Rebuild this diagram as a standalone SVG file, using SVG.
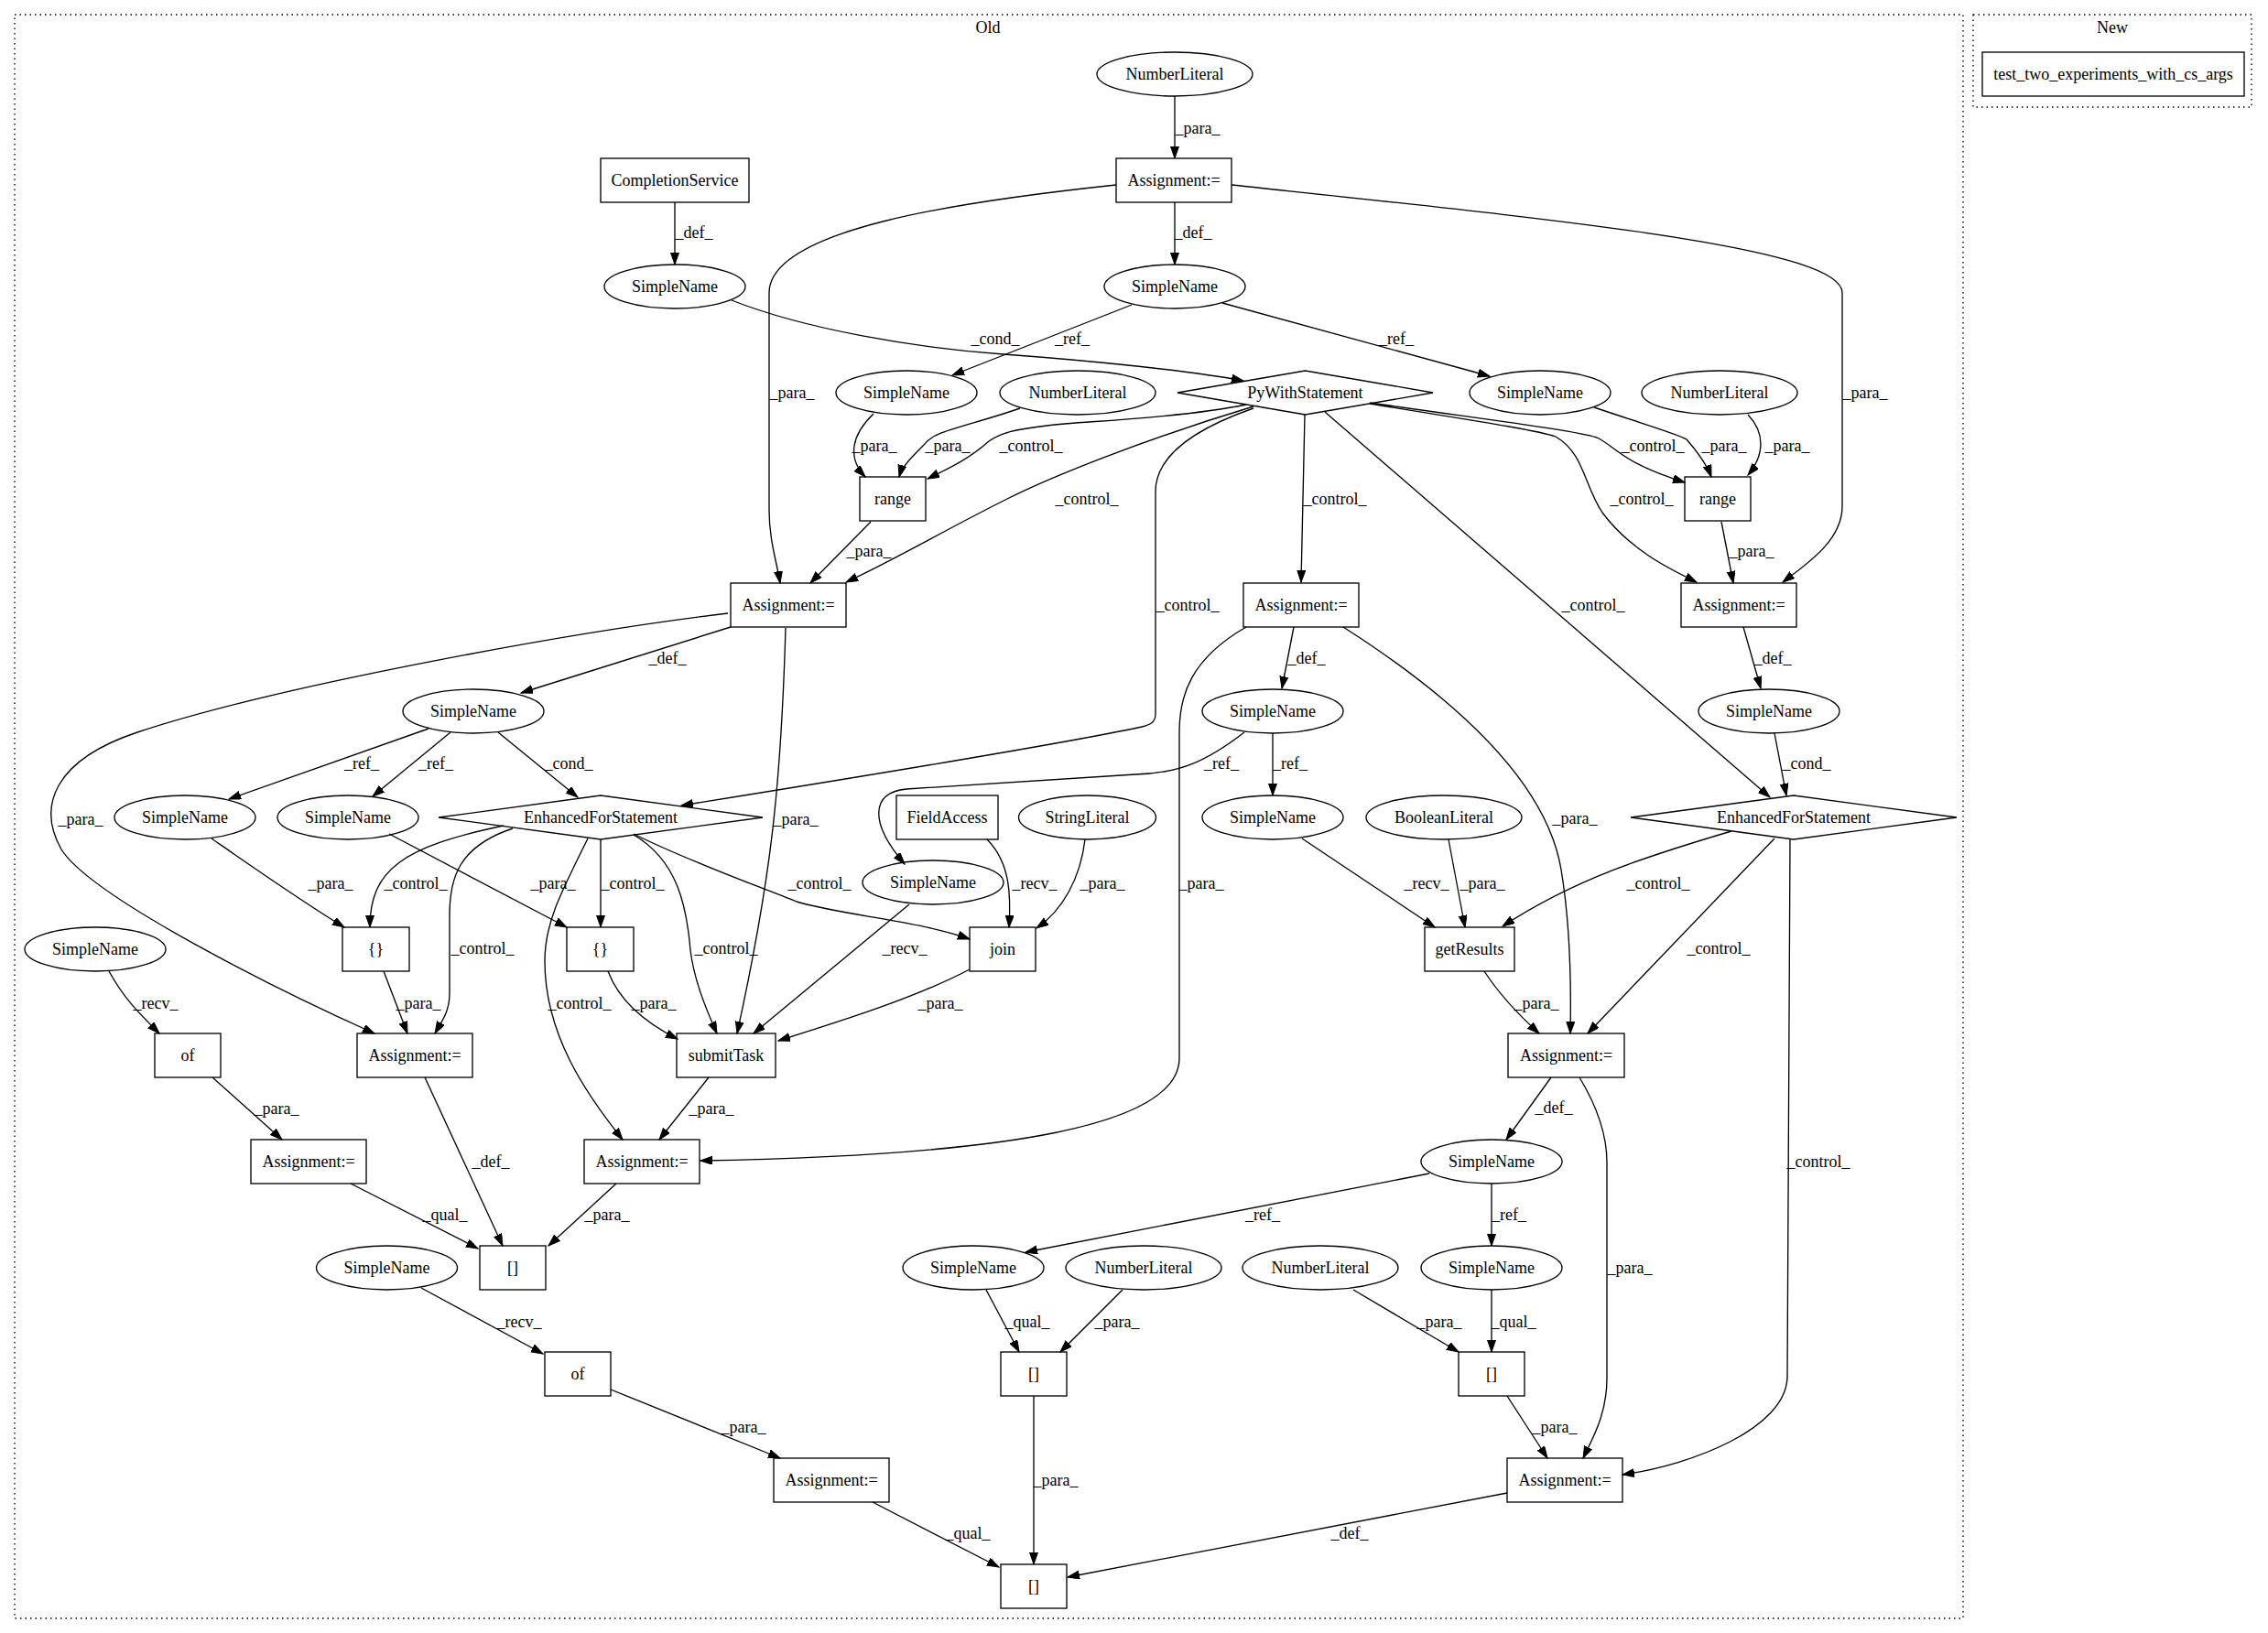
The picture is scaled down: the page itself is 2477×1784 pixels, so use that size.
<svg xmlns="http://www.w3.org/2000/svg" width="2477" height="1784" viewBox="0 0 2477 1784">
<defs>
<marker id="ah" markerUnits="userSpaceOnUse" markerWidth="14" markerHeight="10" refX="13" refY="4.5" orient="auto"><path d="M0,0 L13,4.5 L0,9 z" fill="#000" stroke="#000" stroke-width="1"/></marker>
<style>
.cl{fill:none;stroke:#000;stroke-width:1.33;stroke-dasharray:1.5,4}
.n ellipse,.n rect,.n polygon{fill:none;stroke:#000;stroke-width:1.33}
text{font-family:"Liberation Serif","Times New Roman",serif;font-size:18px;fill:#000}
.n text,.ct{text-anchor:middle}
#edges path{fill:none;stroke:#000;stroke-width:1.33;marker-end:url(#ah)}
#labels text{text-anchor:middle}
</style>
</defs>
<rect class="cl" x="16" y="16" width="2128" height="1752"/>
<text class="ct" x="1079" y="36">Old</text>
<rect class="cl" x="2155" y="16" width="304" height="101"/>
<text class="ct" x="2307" y="36">New</text>

<g id="n1" class="n"><ellipse cx="1283" cy="81" rx="85" ry="24"/><text x="1283" y="87">NumberLiteral</text></g>
<g id="n2" class="n"><rect x="1219" y="173" width="126" height="48"/><text x="1282" y="203">Assignment:=</text></g>
<g id="n3" class="n"><rect x="656" y="173" width="162" height="48"/><text x="737" y="203">CompletionService</text></g>
<g id="n4" class="n"><ellipse cx="737" cy="313" rx="77" ry="24"/><text x="737" y="319">SimpleName</text></g>
<g id="n5" class="n"><ellipse cx="1283" cy="313" rx="77" ry="24"/><text x="1283" y="319">SimpleName</text></g>
<g id="n6" class="n"><polygon points="1286,429 1425.5,405 1565,429 1425.5,453"/><text x="1425.5" y="435">PyWithStatement</text></g>
<g id="n7" class="n"><ellipse cx="990" cy="429" rx="77" ry="24"/><text x="990" y="435">SimpleName</text></g>
<g id="n8" class="n"><ellipse cx="1177" cy="429" rx="85" ry="24"/><text x="1177" y="435">NumberLiteral</text></g>
<g id="n9" class="n"><ellipse cx="1682" cy="429" rx="77" ry="24"/><text x="1682" y="435">SimpleName</text></g>
<g id="n10" class="n"><ellipse cx="1878" cy="429" rx="85" ry="24"/><text x="1878" y="435">NumberLiteral</text></g>
<g id="n11" class="n"><rect x="939" y="521" width="72" height="48"/><text x="975" y="551">range</text></g>
<g id="n12" class="n"><rect x="1840" y="521" width="72" height="48"/><text x="1876" y="551">range</text></g>
<g id="n13" class="n"><rect x="798" y="637" width="126" height="48"/><text x="861" y="667">Assignment:=</text></g>
<g id="n14" class="n"><rect x="1358" y="637" width="126" height="48"/><text x="1421" y="667">Assignment:=</text></g>
<g id="n15" class="n"><rect x="1836" y="637" width="126" height="48"/><text x="1899" y="667">Assignment:=</text></g>
<g id="n16" class="n"><ellipse cx="517" cy="777" rx="77" ry="24"/><text x="517" y="783">SimpleName</text></g>
<g id="n17" class="n"><ellipse cx="1390" cy="777" rx="77" ry="24"/><text x="1390" y="783">SimpleName</text></g>
<g id="n18" class="n"><ellipse cx="1932" cy="777" rx="77" ry="24"/><text x="1932" y="783">SimpleName</text></g>
<g id="n19" class="n"><ellipse cx="202" cy="893" rx="77" ry="24"/><text x="202" y="899">SimpleName</text></g>
<g id="n20" class="n"><ellipse cx="380" cy="893" rx="77" ry="24"/><text x="380" y="899">SimpleName</text></g>
<g id="n21" class="n"><polygon points="479,893 656,869 833,893 656,917"/><text x="656" y="899">EnhancedForStatement</text></g>
<g id="n22" class="n"><rect x="979" y="869" width="111" height="48"/><text x="1034.5" y="899">FieldAccess</text></g>
<g id="n23" class="n"><ellipse cx="1187.5" cy="893" rx="75" ry="24"/><text x="1187.5" y="899">StringLiteral</text></g>
<g id="n24" class="n"><ellipse cx="1390" cy="893" rx="77" ry="24"/><text x="1390" y="899">SimpleName</text></g>
<g id="n25" class="n"><ellipse cx="1577" cy="893" rx="85" ry="24"/><text x="1577" y="899">BooleanLiteral</text></g>
<g id="n26" class="n"><polygon points="1781,893 1959,869 2137,893 1959,917"/><text x="1959" y="899">EnhancedForStatement</text></g>
<g id="n27" class="n"><ellipse cx="1019" cy="964" rx="77" ry="24"/><text x="1019" y="970">SimpleName</text></g>
<g id="n28" class="n"><ellipse cx="104" cy="1037" rx="77" ry="24"/><text x="104" y="1043">SimpleName</text></g>
<g id="n29" class="n"><rect x="374" y="1013" width="73" height="48"/><text x="410.5" y="1043">{}</text></g>
<g id="n30" class="n"><rect x="619" y="1013" width="73" height="48"/><text x="655.5" y="1043">{}</text></g>
<g id="n31" class="n"><rect x="1059" y="1013" width="72" height="48"/><text x="1095" y="1043">join</text></g>
<g id="n32" class="n"><rect x="1556" y="1013" width="98" height="48"/><text x="1605" y="1043">getResults</text></g>
<g id="n33" class="n"><rect x="169" y="1129" width="72" height="48"/><text x="205" y="1159">of</text></g>
<g id="n34" class="n"><rect x="390" y="1129" width="126" height="48"/><text x="453" y="1159">Assignment:=</text></g>
<g id="n35" class="n"><rect x="739" y="1129" width="108" height="48"/><text x="793" y="1159">submitTask</text></g>
<g id="n36" class="n"><rect x="1647" y="1129" width="127" height="48"/><text x="1710.5" y="1159">Assignment:=</text></g>
<g id="n37" class="n"><rect x="274" y="1245" width="126" height="48"/><text x="337" y="1275">Assignment:=</text></g>
<g id="n38" class="n"><rect x="638" y="1245" width="126" height="48"/><text x="701" y="1275">Assignment:=</text></g>
<g id="n39" class="n"><ellipse cx="1629" cy="1269" rx="77" ry="24"/><text x="1629" y="1275">SimpleName</text></g>
<g id="n40" class="n"><rect x="524" y="1361" width="72" height="48"/><text x="560" y="1391">[]</text></g>
<g id="n41" class="n"><ellipse cx="422.5" cy="1385" rx="77" ry="24"/><text x="422.5" y="1391">SimpleName</text></g>
<g id="n42" class="n"><ellipse cx="1063" cy="1385" rx="77" ry="24"/><text x="1063" y="1391">SimpleName</text></g>
<g id="n43" class="n"><ellipse cx="1249" cy="1385" rx="85" ry="24"/><text x="1249" y="1391">NumberLiteral</text></g>
<g id="n44" class="n"><ellipse cx="1442" cy="1385" rx="85" ry="24"/><text x="1442" y="1391">NumberLiteral</text></g>
<g id="n45" class="n"><ellipse cx="1629" cy="1385" rx="77" ry="24"/><text x="1629" y="1391">SimpleName</text></g>
<g id="n46" class="n"><rect x="595" y="1477" width="72" height="48"/><text x="631" y="1507">of</text></g>
<g id="n47" class="n"><rect x="1093" y="1477" width="72" height="48"/><text x="1129" y="1507">[]</text></g>
<g id="n48" class="n"><rect x="1593" y="1477" width="72" height="48"/><text x="1629" y="1507">[]</text></g>
<g id="n49" class="n"><rect x="845" y="1593" width="126" height="48"/><text x="908" y="1623">Assignment:=</text></g>
<g id="n50" class="n"><rect x="1646" y="1593" width="126" height="48"/><text x="1709" y="1623">Assignment:=</text></g>
<g id="n51" class="n"><rect x="1093" y="1709" width="72" height="48"/><text x="1129" y="1739">[]</text></g>
<g id="n52" class="n"><rect x="2165" y="57" width="286" height="48"/><text x="2308" y="87">test_two_experiments_with_cs_args</text></g>

<g id="edges">
<path d="M1283,105 L1283,173"/>
<path d="M1283,221 L1283,289"/>
<path d="M1219,202 C1050,220 840,250 840,320 L840,557 C840,590 848,612 852,637"/>
<path d="M1345,202 C1700,240 2012,270 2012,320 L2012,553 C2012,590 1975,615 1947,636"/>
<path d="M737,221 L737,289"/>
<path d="M799,328 C880,360 1000,380 1096,387 S1300,405 1358,416"/>
<path d="M1236,333 L1040,410"/>
<path d="M1335,331 L1627,411"/>
<path d="M954,452 C930,475 925,500 945,521"/>
<path d="M1114,446 C1060,465 1020,470 1010,485 C995,500 985,510 982,521"/>
<path d="M1361,442 C1300,455 1200,460 1175,462 C1100,468 1090,475 1080,482 C1060,500 1040,510 1013,523"/>
<path d="M1369,444 C1250,480 1150,520 1100,545 C1030,580 980,610 924,636"/>
<path d="M1369,446 C1300,470 1262,500 1262,537 L1262,780 C1262,790 1255,792 1247,794 C1150,815 900,855 744,880"/>
<path d="M1425,453 L1421,636"/>
<path d="M1447,450 L1933,871"/>
<path d="M1496,440 C1620,458 1720,470 1744,478 C1765,488 1770,505 1840,527"/>
<path d="M1496,441 C1600,458 1680,470 1699,477 C1730,495 1730,530 1750,560 C1780,600 1820,620 1853,636"/>
<path d="M1741,445 C1800,465 1835,475 1842,480 C1855,495 1865,510 1869,521"/>
<path d="M1909,453 C1930,475 1925,500 1909,519"/>
<path d="M951,570 L885,637"/>
<path d="M1880,570 L1893,637"/>
<path d="M798,685 L569,757"/>
<path d="M858,686 C853,860 842,960 805,1129"/>
<path d="M795,670 C620,691 300,750 150,800 C60,830 40,880 67,928 C100,980 300,1080 409,1129"/>
<path d="M1413,685 L1400,752"/>
<path d="M1361,685 C1300,720 1288,760 1288,800 L1288,1156 C1288,1230 1100,1262 765,1268"/>
<path d="M1467,685 C1600,770 1690,860 1705,950 C1715,1010 1716,1080 1715,1129"/>
<path d="M1904,685 L1923,752"/>
<path d="M468,796 L250,873"/>
<path d="M492,800 L407,870"/>
<path d="M544,800 L631,871"/>
<path d="M1359,800 C1320,830 1290,845 1240,846 L990,862 C950,866 950,900 988,944"/>
<path d="M1390,801 L1390,869"/>
<path d="M1938,801 L1951,869"/>
<path d="M231,916 C280,950 330,985 376,1013"/>
<path d="M425,911 L619,1013"/>
<path d="M550,902 C440,925 404,950 404,1013"/>
<path d="M560,905 C500,925 491,960 491,1000 L491,1085 C491,1105 483,1115 475,1129"/>
<path d="M656,917 L656,1013"/>
<path d="M642,916 C610,980 595,1010 595,1050 C595,1130 640,1195 680,1245"/>
<path d="M692,912 C740,940 750,990 754,1038 C758,1070 770,1100 783,1129"/>
<path d="M692,911 C750,940 820,965 870,985 C920,1000 1000,1005 1059,1026"/>
<path d="M1078,917 C1104,943 1104,980 1102,1013"/>
<path d="M1185,917 C1180,960 1160,995 1132,1014"/>
<path d="M993,988 L823,1129"/>
<path d="M1422,916 L1567,1013"/>
<path d="M1582,917 L1600,1013"/>
<path d="M1891,908 C1800,935 1720,960 1641,1012"/>
<path d="M1938,916 L1734,1129"/>
<path d="M1955,917 L1952,1505 C1950,1560 1850,1600 1772,1611"/>
<path d="M419,1061 L445,1129"/>
<path d="M664,1061 C675,1090 700,1115 740,1135"/>
<path d="M1059,1059 C1000,1090 920,1115 850,1137"/>
<path d="M119,1061 C135,1090 150,1105 174,1129"/>
<path d="M1621,1061 C1640,1090 1660,1110 1681,1129"/>
<path d="M232,1177 L308,1245"/>
<path d="M464,1177 L549,1361"/>
<path d="M774,1177 L720,1245"/>
<path d="M383,1293 L522,1364"/>
<path d="M673,1293 L599,1361"/>
<path d="M1694,1177 L1645,1245"/>
<path d="M1725,1177 C1745,1210 1755,1240 1755,1270 L1755,1505 C1755,1545 1740,1570 1729,1593"/>
<path d="M1561,1282 L1120,1368"/>
<path d="M1629,1293 L1629,1361"/>
<path d="M460,1407 L593,1479"/>
<path d="M1077,1409 L1113,1477"/>
<path d="M1226,1409 L1158,1477"/>
<path d="M1478,1409 L1593,1477"/>
<path d="M1629,1409 L1629,1477"/>
<path d="M667,1518 L852,1593"/>
<path d="M1129,1525 L1129,1709"/>
<path d="M1646,1525 L1690,1593"/>
<path d="M953,1641 L1091,1712"/>
<path d="M1646,1631 L1166,1723"/>
</g>

<g id="labels">
<text x="1308" y="146">_para_</text>
<text x="1303" y="260">_def_</text>
<text x="758" y="260">_def_</text>
<text x="865" y="435">_para_</text>
<text x="1087" y="376">_cond_</text>
<text x="1171" y="376">_ref_</text>
<text x="1525" y="376">_ref_</text>
<text x="2037" y="435">_para_</text>
<text x="955" y="493">_para_</text>
<text x="1035" y="493">_para_</text>
<text x="1126" y="493">_control_</text>
<text x="1187" y="551">_control_</text>
<text x="1458" y="551">_control_</text>
<text x="1793" y="551">_control_</text>
<text x="1805" y="493">_control_</text>
<text x="1883" y="493">_para_</text>
<text x="1952" y="493">_para_</text>
<text x="949" y="608">_para_</text>
<text x="1913" y="608">_para_</text>
<text x="1297" y="667">_control_</text>
<text x="1740" y="667">_control_</text>
<text x="729" y="725">_def_</text>
<text x="1427" y="725">_def_</text>
<text x="1936" y="725">_def_</text>
<text x="88" y="901">_para_</text>
<text x="869" y="901">_para_</text>
<text x="395" y="840">_ref_</text>
<text x="476" y="840">_ref_</text>
<text x="621" y="840">_cond_</text>
<text x="1334" y="840">_ref_</text>
<text x="1409" y="840">_ref_</text>
<text x="1973" y="840">_cond_</text>
<text x="1720" y="900">_para_</text>
<text x="1312" y="971">_para_</text>
<text x="361" y="971">_para_</text>
<text x="454" y="971">_control_</text>
<text x="604" y="971">_para_</text>
<text x="691" y="971">_control_</text>
<text x="895" y="971">_control_</text>
<text x="1130" y="971">_recv_</text>
<text x="1204" y="971">_para_</text>
<text x="1558" y="971">_recv_</text>
<text x="1619" y="971">_para_</text>
<text x="1811" y="971">_control_</text>
<text x="527" y="1042">_control_</text>
<text x="793" y="1042">_control_</text>
<text x="988" y="1042">_recv_</text>
<text x="1877" y="1042">_control_</text>
<text x="170" y="1102">_recv_</text>
<text x="457" y="1102">_para_</text>
<text x="633" y="1102">_control_</text>
<text x="714" y="1102">_para_</text>
<text x="1027" y="1102">_para_</text>
<text x="1678" y="1102">_para_</text>
<text x="302" y="1217">_para_</text>
<text x="777" y="1217">_para_</text>
<text x="1697" y="1216">_def_</text>
<text x="536" y="1275">_def_</text>
<text x="1986" y="1275">_control_</text>
<text x="486" y="1333">_qual_</text>
<text x="663" y="1333">_para_</text>
<text x="1379" y="1333">_ref_</text>
<text x="1648" y="1333">_ref_</text>
<text x="1780" y="1391">_para_</text>
<text x="567" y="1450">_recv_</text>
<text x="1122" y="1450">_qual_</text>
<text x="1220" y="1450">_para_</text>
<text x="1572" y="1450">_para_</text>
<text x="1653" y="1450">_qual_</text>
<text x="812" y="1565">_para_</text>
<text x="1698" y="1565">_para_</text>
<text x="1153" y="1623">_para_</text>
<text x="1057" y="1681">_qual_</text>
<text x="1474" y="1681">_def_</text>
</g>
</svg>
